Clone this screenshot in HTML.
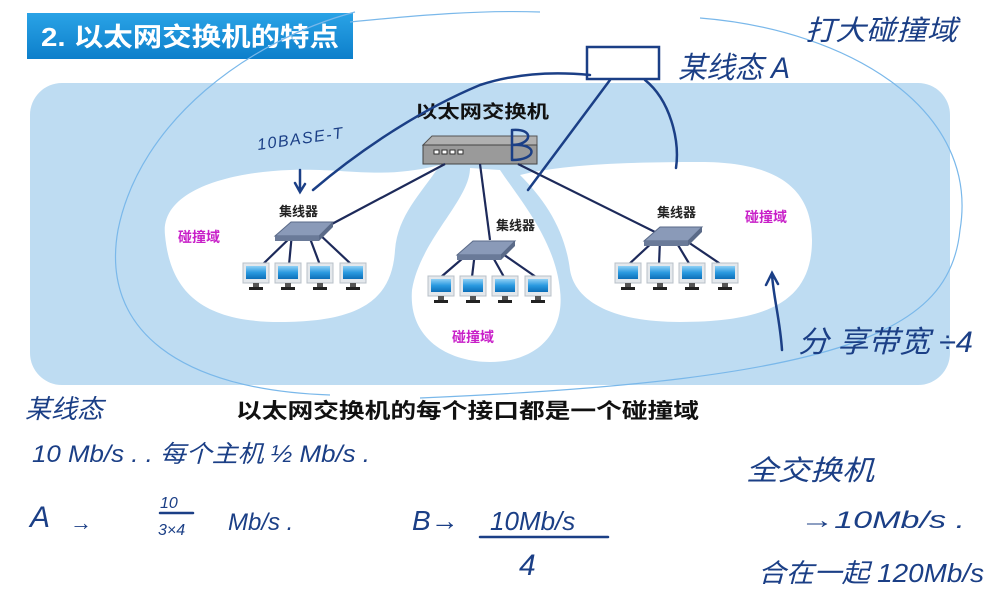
<!DOCTYPE html>
<html><head><meta charset="utf-8"><style>
html,body{margin:0;padding:0;background:#fff;}
svg{display:block;}
.hw{font-family:"Liberation Sans","Noto Sans CJK SC",sans-serif;fill:#1b3f86;font-style:italic;}
.cn{font-family:"Liberation Sans","Noto Sans CJK SC",sans-serif;}
</style></head><body>
<svg width="990" height="590" viewBox="0 0 990 590" xmlns="http://www.w3.org/2000/svg">
<defs>
<linearGradient id="tb" x1="0" y1="0" x2="0" y2="1"><stop offset="0" stop-color="#2aa3e6"/><stop offset="1" stop-color="#0d7fcb"/></linearGradient>
<linearGradient id="scr" x1="0" y1="0" x2="0" y2="1"><stop offset="0" stop-color="#8fd0f5"/><stop offset="0.5" stop-color="#2a9ae0"/><stop offset="1" stop-color="#0d6fb8"/></linearGradient>
<g id="mon">
<rect x="0" y="0" width="26" height="20" fill="#e4e8ec" stroke="#b8c0c8" stroke-width="1"/>
<rect x="3" y="3" width="20" height="13" fill="url(#scr)"/>
<rect x="10" y="20" width="6" height="4" fill="#555"/>
<rect x="6" y="24" width="14" height="3" fill="#222"/>
</g>
<g id="hub">
<polygon points="-28,8 -12,-6 30,-6 16,8" fill="#8a9ab8" stroke="#5a6a88"/>
<polygon points="-28,8 16,8 16,13 -28,13" fill="#6a7a98"/>
<polygon points="16,8 30,-6 30,-1 16,13" fill="#5a6a88"/>
</g>
</defs>
<rect width="990" height="590" fill="#fff"/>
<!-- title -->
<rect x="27" y="13" width="326" height="46" fill="url(#tb)"/>
<text x="41" y="46" class="cn" font-size="26" font-weight="bold" fill="#fff" textLength="298" lengthAdjust="spacingAndGlyphs">2. 以太网交换机的特点</text>
<!-- panel -->
<rect x="30" y="83" width="920" height="302" rx="32" fill="#bedcf2"/>
<!-- blobs -->
<path d="M165,235 C160,190 230,172 290,170 C350,168 380,180 440,165 C420,195 398,215 395,250 C392,300 360,322 280,322 C200,322 170,290 165,235Z" fill="#fff"/>
<path d="M470,168 C470,200 420,240 412,290 C408,340 450,362 490,362 C540,362 565,330 560,290 C555,240 520,200 500,170 Z" fill="#fff"/>
<path d="M520,175 C560,165 620,162 700,162 C780,162 812,190 812,240 C812,300 770,322 680,322 C610,322 575,300 570,270 C565,230 545,200 520,175Z" fill="#fff"/>
<!-- switch -->
<text x="415" y="118" class="cn" font-size="18" font-weight="bold" fill="#111" textLength="134" lengthAdjust="spacingAndGlyphs">以太网交换机</text>
<polygon points="423,145 432,136 537,136 537,145" fill="#b0b0b0" stroke="#555"/>
<rect x="423" y="145" width="114" height="19" fill="#9a9a9a" stroke="#444"/>
<rect x="434" y="150" width="5" height="4" fill="#fff" stroke="#333"/>
<rect x="442" y="150" width="5" height="4" fill="#fff" stroke="#333"/>
<rect x="450" y="150" width="5" height="4" fill="#fff" stroke="#333"/>
<rect x="458" y="150" width="5" height="4" fill="#fff" stroke="#333"/>
<!-- links -->
<g stroke="#1d2a5a" stroke-width="2.2" fill="none">
<line x1="445" y1="164" x2="330" y2="225"/>
<line x1="480" y1="164" x2="490" y2="240"/>
<line x1="518" y1="164" x2="655" y2="232"/>
<line x1="295" y1="233" x2="262" y2="265"/><line x1="292" y1="233" x2="289" y2="265"/><line x1="308" y1="233" x2="320" y2="265"/><line x1="318" y1="233" x2="352" y2="265"/>
<line x1="470" y1="252" x2="441" y2="277"/><line x1="475" y1="252" x2="472" y2="277"/><line x1="490" y1="252" x2="504" y2="277"/><line x1="500" y1="252" x2="536" y2="277"/>
<line x1="655" y1="240" x2="628" y2="265"/><line x1="660" y1="240" x2="659" y2="265"/><line x1="675" y1="240" x2="690" y2="265"/><line x1="685" y1="240" x2="722" y2="265"/>
</g>
<use href="#hub" x="303" y="228"/>
<use href="#hub" x="485" y="247"/>
<use href="#hub" x="672" y="233"/>
<use href="#mon" x="243" y="263"/><use href="#mon" x="275" y="263"/><use href="#mon" x="307" y="263"/><use href="#mon" x="340" y="263"/>
<use href="#mon" x="428" y="276"/><use href="#mon" x="460" y="276"/><use href="#mon" x="492" y="276"/><use href="#mon" x="525" y="276"/>
<use href="#mon" x="615" y="263"/><use href="#mon" x="647" y="263"/><use href="#mon" x="679" y="263"/><use href="#mon" x="712" y="263"/>
<g class="cn" font-weight="bold" font-size="13" fill="#222">
<text x="279" y="216">集线器</text><text x="496" y="230">集线器</text><text x="657" y="217">集线器</text>
</g>
<g class="cn" font-weight="bold" font-size="14" fill="#c81fc8">
<text x="178" y="242">碰撞域</text><text x="452" y="342">碰撞域</text><text x="745" y="222">碰撞域</text>
</g>
<text x="236" y="418" class="cn" font-size="21" font-weight="bold" fill="#111" textLength="463" lengthAdjust="spacingAndGlyphs">以太网交换机的每个接口都是一个碰撞域</text>
<!-- thin light arcs -->
<g fill="none" stroke="#7ab8ea" stroke-width="1.2">
<path d="M355,12 C250,40 140,120 118,230 C100,330 180,390 330,395"/>
<path d="M350,22 C420,15 480,10 540,12"/>
<path d="M700,18 C850,30 980,110 960,230 C950,330 850,380 420,398"/>
</g>
<!-- handwriting strokes -->
<g fill="none" stroke="#1b3f86" stroke-width="2.5" stroke-linecap="round">
<path d="M313,190 C360,150 420,110 480,85 C520,72 560,72 590,75"/>
<path d="M300,170 L300,190 M295,183 L300,192 L305,184"/>
<rect x="587" y="47" width="72" height="32"/>
<path d="M610,80 C580,120 550,160 528,190"/>
<path d="M645,80 C670,100 680,140 676,168"/>
<path d="M782,350 C780,320 774,300 772,275 M766,285 L772,273 L778,284"/>
<path d="M512,130 L512,160 M512,130 C535,128 532,145 512,145 C538,143 538,160 512,160"/>
<line x1="480" y1="537" x2="608" y2="537"/>
<line x1="160" y1="513" x2="193" y2="513"/>
</g>
<g class="hw">
<text x="258" y="150" font-size="16" transform="rotate(-8 258 150)" textLength="86">10BASE-T</text>
<text x="678" y="78" font-size="30" textLength="112" lengthAdjust="spacingAndGlyphs">某线态 A</text>
<text x="805" y="40" font-size="28" textLength="152" lengthAdjust="spacingAndGlyphs">打大碰撞域</text>
<text x="798" y="352" font-size="30" textLength="175" lengthAdjust="spacingAndGlyphs">分 享带宽 ÷4</text>
<text x="25" y="418" font-size="26">某线态</text>
<text x="32" y="462" font-size="24" textLength="338" lengthAdjust="spacingAndGlyphs">10 Mb/s . . 每个主机 ½ Mb/s .</text>
<text x="30" y="527" font-size="30">A</text>
<text x="70" y="530" font-size="22">→</text>
<text x="160" y="508" font-size="16">10</text>
<text x="158" y="535" font-size="16">3×4</text>
<text x="228" y="530" font-size="24">Mb/s .</text>
<text x="412" y="530" font-size="28">B→</text>
<text x="490" y="530" font-size="26">10Mb/s</text>
<text x="519" y="575" font-size="30">4</text>
<text x="746" y="480" font-size="28" textLength="128" lengthAdjust="spacingAndGlyphs">全交换机</text>
<text x="800" y="528" font-size="24" textLength="165" lengthAdjust="spacingAndGlyphs">→10Mb/s .</text>
<text x="758" y="582" font-size="26" textLength="226" lengthAdjust="spacingAndGlyphs">合在一起 120Mb/s</text>
</g>
</svg>
</body></html>
